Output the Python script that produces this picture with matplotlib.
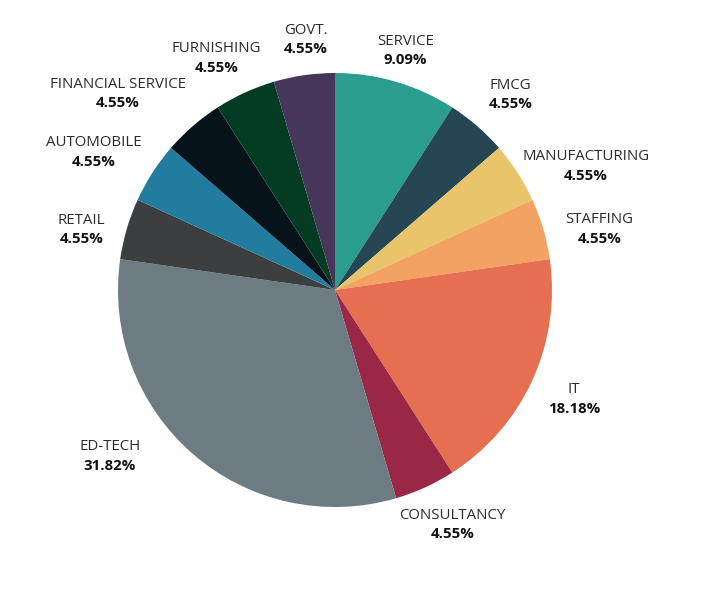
import numpy as np
import matplotlib.pyplot as plt

# -------------------------------
# DATA
# -------------------------------
sectors = ['SERVICE', 'FMCG', 'MANUFACTURING', 'STAFFING', 'IT', 'CONSULTANCY',
           'ED-TECH', 'RETAIL', 'AUTOMOBILE', 'FINANCIAL SERVICE', 'FURNISHING', 'GOVT.']
counts = [2, 1, 1, 1, 4, 1, 7, 1, 1, 1, 1, 1]
colors = ['#2a9d8f', '#264653', '#e9c46a', '#f4a261', '#e76f51', '#9b2747',
          '#6d7c82', '#3b3f40', '#227ca0', '#06131b', '#033c23', '#45365a']

# label layout: distance from centre (in radii) and angle nudge (deg)
label_r = [1.15, 1.21, 1.29, 1.25, 1.21, 1.21, 1.29, 1.20, 1.28, 1.35, 1.20, 1.16]
label_da = [0, -1, -6.5, -3.4, 0, 2, -12.7, 3, 3, 7, 2.5, -1.6]

plt.rcParams['font.family'] = ['Open Sans', 'DejaVu Sans']

fig = plt.figure(figsize=(7.21, 5.99), dpi=100)
ax = fig.add_axes([0, 0, 1, 1])

cx, cy, R = 335, 309, 217
wedges, _ = ax.pie(counts, colors=colors, startangle=90, counterclock=False,
                   center=(cx, cy), radius=R, frame=True)
ax.set_xlim(0, 721)
ax.set_ylim(0, 599)
ax.axis('off')

total = sum(counts)
for w, name, c, r, da in zip(wedges, sectors, counts, label_r, label_da):
    mid = np.deg2rad((w.theta1 + w.theta2) / 2 + da)
    x = cx + r * R * np.cos(mid)
    y = cy + r * R * np.sin(mid)
    ax.text(x, y + 9.5, name, ha='center', va='center', fontsize=10.8, color='#2b2b2b')
    ax.text(x, y - 9.5, f'{c / total * 100:.2f}%', ha='center', va='center',
            fontsize=10.8, fontweight='bold', color='#111111')

fig.savefig('out.png', dpi=100)
